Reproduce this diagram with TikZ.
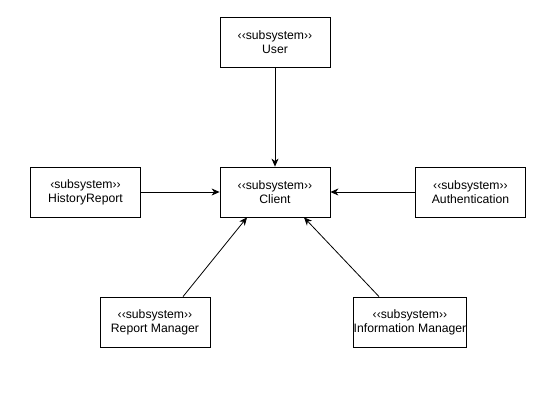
\documentclass[tikz,border=0pt]{standalone}
\usepackage{fontspec}
\setmainfont{Liberation Sans}
\usetikzlibrary{arrows.meta}
\begin{document}
\begin{tikzpicture}[x=1bp, y=-1bp,
	subsys/.style={draw, black, line width=0.8bp, minimum width=110bp, minimum height=50bp,
		align=center, inner sep=0pt, font=\fontsize{12.2bp}{14bp}\selectfont},
	uses/.style={-{Stealth[length=8bp, width=7bp, inset=2.5bp]}, line width=0.8bp}]
			\useasboundingbox (0, 0) rectangle (557, 401);

			\node[subsys] (user)		at (275, 42)	{‹‹subsystem››\\User};
			\node[subsys] (client)		at (275, 192)	{‹‹subsystem››\\Client};
			\node[subsys] (history)		at (85.5, 192)	{‹subsystem››\\HistoryReport};
			\node[subsys] (auth)		at (470.5, 192)	{‹‹subsystem››\\Authentication};
			\node[subsys] (reportman)	at (155, 322)	{‹‹subsystem››\\Report Manager};
			\node[subsys] (infoman)		at (410, 322)	{‹‹subsystem››\\Information Manager};

			\draw[uses]	(user) -- (client);
			\draw[uses]	(history) -- (client);
			\draw[uses]	(auth) -- (client);
			\draw[uses]	([xshift=28bp]reportman.north) -- ([xshift=-28bp]client.south);
			\draw[uses]	([xshift=-31bp]infoman.north) -- ([xshift=29bp]client.south);
		\end{tikzpicture}
\end{document}
